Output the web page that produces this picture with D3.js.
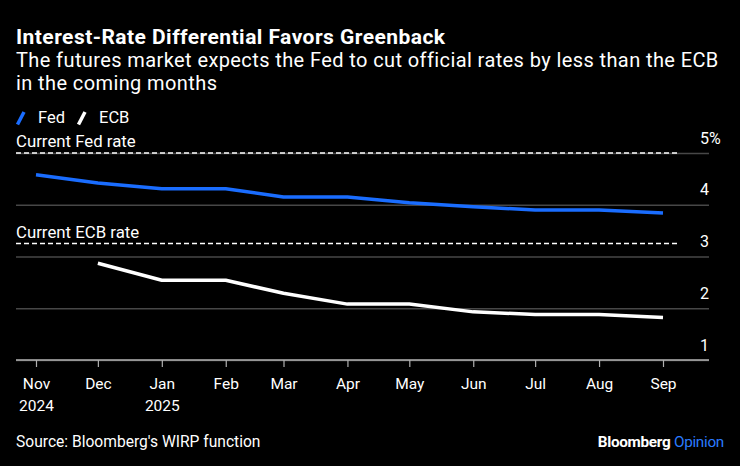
<!DOCTYPE html>
<html>
<head>
<meta charset="utf-8">
<script src="https://cdn.jsdelivr.net/npm/d3@7"></script>
<style>
  html, body { margin: 0; padding: 0; background: #000; }
  svg { display: block; font-family: Roboto, "Liberation Sans", sans-serif; }
</style>
</head>
<body>
<svg id="chart" width="740" height="466"></svg>
<script>
// ---- Data ----
const months = ["2024-11-01", "2024-12-01", "2025-01-01", "2025-02-01", "2025-03-01", "2025-04-01",
                "2025-05-01", "2025-06-01", "2025-07-01", "2025-08-01", "2025-09-01"];
const monthLabels = ["Nov", "Dec", "Jan", "Feb", "Mar", "Apr", "May", "Jun", "Jul", "Aug", "Sep"];
const yearLabels = ["2024", "", "2025", "", "", "", "", "", "", "", ""];
const fedRates = [4.58, 4.42, 4.31, 4.31, 4.15, 4.15, 4.04, 3.96, 3.90, 3.90, 3.84];
const ecbRates = [null, 2.87, 2.54, 2.54, 2.29, 2.08, 2.08, 1.93, 1.88, 1.88, 1.82];
const yTicks = [1, 2, 3, 4, 5];
const yTickLabels = ["1", "2", "3", "4", "5%"];
const currentRates = [
  { label: "Current Fed rate", value: 5.0 },
  { label: "Current ECB rate", value: 3.25 }
];
const seriesNames = ["Fed", "ECB"];

// ---- Layout ----
const W = 740, H = 466;
const plotLeft = 16, plotRight = 709;
const fedColor = "#1a6dff", ecbColor = "#ffffff";

const svg = d3.select("#chart");
svg.append("rect").attr("width", W).attr("height", H).attr("fill", "#000");

const parse = d3.utcParse("%Y-%m-%d");
const dates = months.map(parse);

const x = d3.scaleUtc().domain([dates[0], dates[dates.length - 1]]).range([36, 663]);
const y = d3.scaleLinear().domain([1, 5]).range([360, 153]);

// Title & subtitle
svg.append("text").attr("x", 16).attr("y", 44)
  .attr("fill", "#fff").attr("font-size", 21).attr("font-weight", 700)
  .attr("letter-spacing", 0.45)
  .text("Interest-Rate Differential Favors Greenback");
const sub = svg.append("text").attr("fill", "#fff").attr("font-size", 20).attr("letter-spacing", 0.4);
sub.append("tspan").attr("x", 16).attr("y", 67)
  .text("The futures market expects the Fed to cut official rates by less than the ECB");
sub.append("tspan").attr("x", 16).attr("y", 90).text("in the coming months");

// Legend
const legend = svg.append("g");
const legendItems = [
  { name: seriesNames[0], color: fedColor, x: 17 },
  { name: seriesNames[1], color: ecbColor, x: 78 }
];
legendItems.forEach(it => {
  legend.append("line").attr("x1", it.x + 0.5).attr("y1", 124.5).attr("x2", it.x + 7).attr("y2", 112)
    .attr("stroke", it.color).attr("stroke-width", 3.5).attr("stroke-linecap", "butt");
  legend.append("text").attr("x", it.x + 21).attr("y", 123)
    .attr("fill", "#fff").attr("font-size", 16.5).text(it.name);
});

// Y gridlines via axis
const yAxis = d3.axisRight(y).tickValues(yTicks)
  .tickSize(plotRight - plotLeft)
  .tickFormat((d, i) => yTickLabels[i]);
const gy = svg.append("g").attr("transform", `translate(${plotLeft},0)`).call(yAxis);
gy.select(".domain").remove();
gy.selectAll(".tick line").attr("stroke", "#474747").attr("stroke-width", 1.5);
gy.selectAll(".tick text")
  .attr("x", 700 - plotLeft).attr("dy", -10).attr("text-anchor", "start")
  .attr("fill", "#fff").attr("font-size", 16).attr("font-family", "Roboto, sans-serif");

// Current rate dashed lines
currentRates.forEach(c => {
  svg.append("line").attr("x1", plotLeft).attr("x2", 680)
    .attr("y1", y(c.value)).attr("y2", y(c.value))
    .attr("stroke", "#fff").attr("stroke-width", 1.5).attr("stroke-dasharray", "5,3");
  svg.append("text").attr("x", 16).attr("y", y(c.value) - 6)
    .attr("fill", "#fff").attr("font-size", 16.8).text(c.label);
});

// X axis
const xAxis = d3.axisBottom(x).tickValues(dates).tickSize(7).tickFormat(() => "");
const gx = svg.append("g").attr("transform", `translate(0,${y(1)})`).call(xAxis);
gx.select(".domain").remove();
gx.append("line").attr("x1", plotLeft).attr("x2", plotRight).attr("y1", 0).attr("y2", 0)
  .attr("stroke", "#b0b0b0").attr("stroke-width", 1.5);
gx.selectAll(".tick line").attr("stroke", "#b0b0b0").attr("stroke-width", 1.2);
gx.selectAll(".tick").each(function(d, i) {
  const t = d3.select(this).append("text").attr("fill", "#fff").attr("font-size", 15.5)
    .attr("text-anchor", "middle").attr("font-family", "Roboto, sans-serif");
  t.append("tspan").attr("x", 0).attr("y", 29).text(monthLabels[i]);
  if (yearLabels[i]) t.append("tspan").attr("x", 0).attr("y", 51).text(yearLabels[i]);
});

// Lines
const line = d3.line()
  .defined(d => d.v !== null)
  .x(d => x(d.date)).y(d => y(d.v));
const fedData = dates.map((d, i) => ({ date: d, v: fedRates[i] }));
const ecbData = dates.map((d, i) => ({ date: d, v: ecbRates[i] }));
svg.append("path").datum(fedData).attr("d", line)
  .attr("fill", "none").attr("stroke", fedColor).attr("stroke-width", 3.5)
  .attr("stroke-linejoin", "round");
svg.append("path").datum(ecbData).attr("d", line)
  .attr("fill", "none").attr("stroke", ecbColor).attr("stroke-width", 3.5)
  .attr("stroke-linejoin", "round");

// Footer
svg.append("text").attr("x", 16).attr("y", 447).attr("fill", "#fff").attr("font-size", 15.6)
  .text("Source: Bloomberg's WIRP function");
const brand = svg.append("text").attr("x", 724).attr("y", 447).attr("text-anchor", "end")
  .attr("font-size", 15.3).attr("letter-spacing", -0.3);
brand.append("tspan").attr("fill", "#fff").attr("font-weight", 700).text("Bloomberg ");
brand.append("tspan").attr("fill", "#2a7bff").text("Opinion");
</script>
</body>
</html>
